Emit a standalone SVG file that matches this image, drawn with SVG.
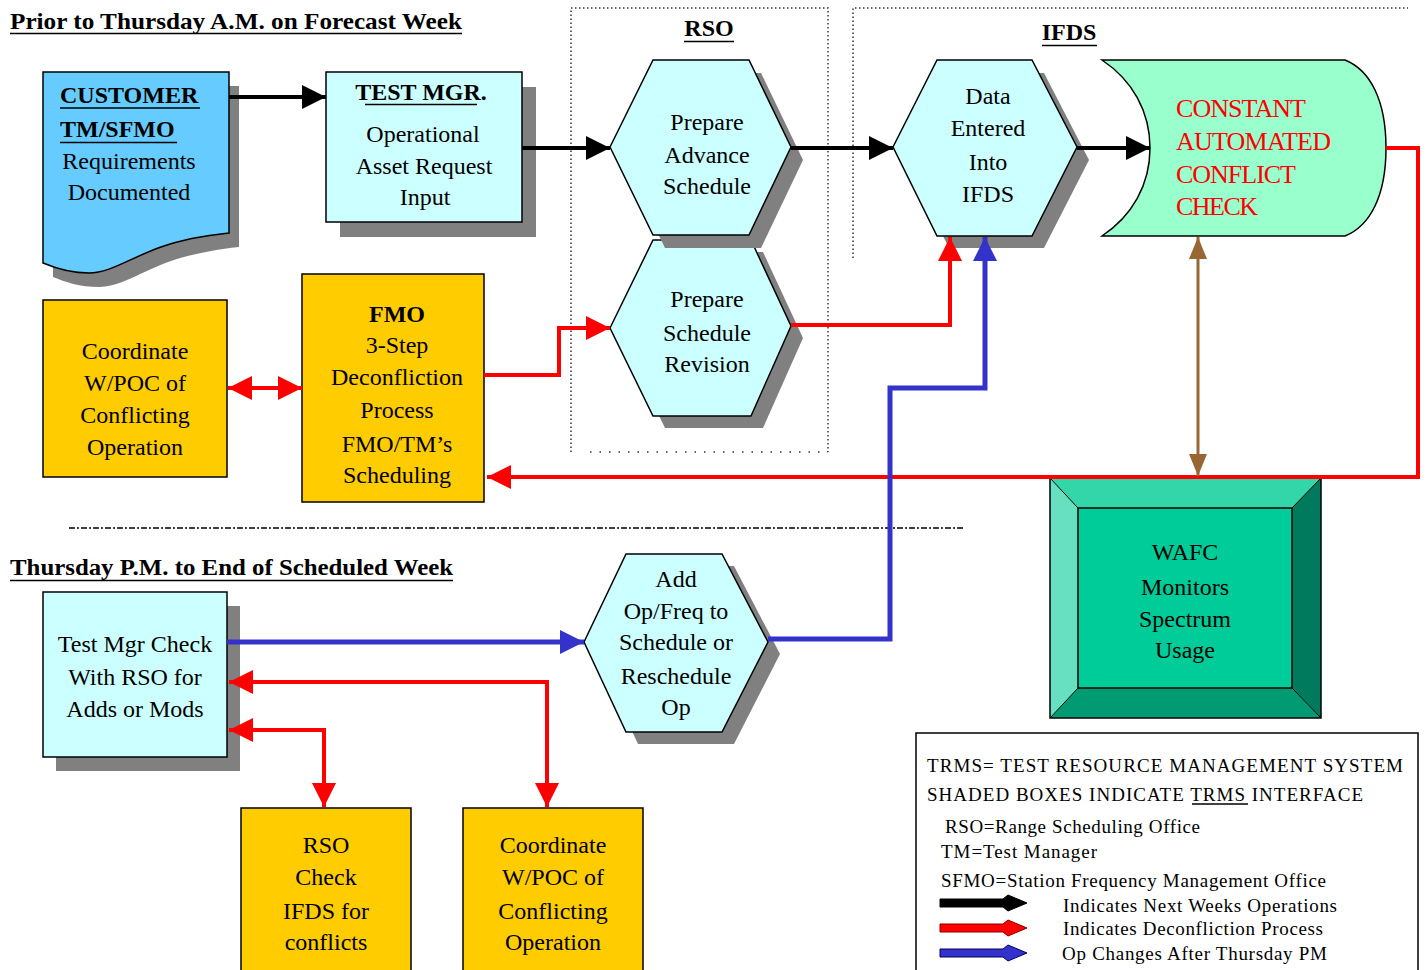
<svg xmlns="http://www.w3.org/2000/svg" width="1427" height="970" viewBox="0 0 1427 970">
<style>
.t{font-family:"Liberation Serif","Times New Roman",serif;font-size:24px;fill:#000;text-anchor:middle}
.b{font-weight:bold}
.l{text-anchor:start}
.sh{fill:#808080}
.cy{fill:#CCFFFF;stroke:#000;stroke-width:1.5}
.ye{fill:#FFCC00;stroke:#000;stroke-width:1.5}
.dot{fill:none;stroke:#333;stroke-width:1.5;stroke-dasharray:1.5 2.5}
.ul{stroke:#000;stroke-width:1.5}
.lg{font-family:"Liberation Serif","Times New Roman",serif;font-size:19px;fill:#000}
.rd{fill:#FF0000;font-family:"Liberation Serif","Times New Roman",serif;font-size:26px}
.k{fill:none;stroke:#000;stroke-width:4}
.r{fill:none;stroke:#FF0000;stroke-width:4}
.bl{fill:none;stroke:#3333CC;stroke-width:5}
.br{fill:none;stroke:#996633;stroke-width:3}
</style>
<defs>
<marker id="ak" markerUnits="userSpaceOnUse" markerWidth="24" markerHeight="24" refX="24" refY="12" orient="auto"><path d="M0,0 L24,12 L0,24 Z" fill="#000"/></marker>
<marker id="ar" markerUnits="userSpaceOnUse" markerWidth="24" markerHeight="24" refX="24" refY="12" orient="auto-start-reverse"><path d="M0,0 L24,12 L0,24 Z" fill="#FF0000"/></marker>
<marker id="ab" markerUnits="userSpaceOnUse" markerWidth="24" markerHeight="24" refX="24" refY="12" orient="auto"><path d="M0,0 L24,12 L0,24 Z" fill="#3333CC"/></marker>
<marker id="an" markerUnits="userSpaceOnUse" markerWidth="22" markerHeight="18" refX="22" refY="9" orient="auto-start-reverse"><path d="M0,0 L22,9 L0,18 Z" fill="#996633"/></marker>
</defs>
<rect width="1427" height="970" fill="#fff"/>

<!-- section titles & frames -->
<g id="titles">
<text class="t b l" x="10" y="29" font-size="26" textLength="452" lengthAdjust="spacingAndGlyphs">Prior to Thursday A.M. on Forecast  Week</text>
<line class="ul" x1="10" y1="33.5" x2="462" y2="33.5"/>
<text class="t b l" x="10" y="575" font-size="26" textLength="443" lengthAdjust="spacingAndGlyphs">Thursday P.M. to End of Scheduled Week</text>
<line class="ul" x1="10" y1="580.5" x2="453" y2="580.5"/>
<line x1="69" y1="528" x2="963" y2="528" stroke="#000" stroke-width="1.5" stroke-dasharray="6 2 2 2"/>
</g>
<g id="rso-frame">
<path class="dot" d="M571,452 V8 H828 V452"/>
<line x1="590" y1="452" x2="828" y2="452" stroke="#333" stroke-width="1.5" stroke-dasharray="1.5 8"/>
<text class="t b" x="709" y="36">RSO</text>
<line class="ul" x1="684" y1="41.5" x2="734" y2="41.5"/>
</g>
<g id="ifds-frame">
<path class="dot" d="M853,258 V8 H1408"/>
<text class="t b" x="1069" y="40">IFDS</text>
<line class="ul" x1="1042" y1="45.5" x2="1097" y2="45.5"/>
</g>

<!-- nodes -->
<g id="customer">
<path class="sh" d="M53,86 H239 V247 C210,250 185,256 171,261 C140,272 120,287 99,287 C80,287 65,282 53,277 Z"/>
<path d="M43,72 H229 V233 C200,236 175,242 161,247 C130,258 110,273 89,273 C70,273 55,268 43,263 Z" fill="#66CCFF" stroke="#000" stroke-width="1.5"/>
<text class="t b l" x="60" y="103">CUSTOMER</text>
<line class="ul" x1="60" y1="108" x2="200" y2="108"/>
<text class="t b l" x="60" y="137">TM/SFMO</text>
<line class="ul" x1="60" y1="142.5" x2="177" y2="142.5"/>
<text class="t" x="129" y="169">Requirements</text>
<text class="t" x="129" y="200">Documented</text>
</g>
<g id="testmgr">
<rect class="sh" x="340" y="87" width="196" height="150"/>
<rect class="cy" x="326" y="72" width="196" height="150"/>
<text class="t b" x="421" y="100" font-size="20">TEST MGR.</text>
<line class="ul" x1="365" y1="104.5" x2="477" y2="104.5"/>
<text class="t" x="423" y="142">Operational</text>
<text class="t" x="424" y="174">Asset Request</text>
<text class="t" x="425" y="205">Input</text>
</g>
<g id="hex-revision">
<polygon class="sh" points="622,340 665,252 763,252 803,338 763,428 665,428"/>
<polygon class="cy" points="610,328 653,240 751,240 791,326 751,416 653,416"/>
<text class="t" x="707" y="307">Prepare</text>
<text class="t" x="707" y="341">Schedule</text>
<text class="t" x="707" y="372">Revision</text>
</g>
<g id="hex-advance">
<polygon class="sh" points="622,160 665,73 761,73 803,160 761,248 665,248"/>
<polygon class="cy" points="610,147 653,60 749,60 791,147 749,235 653,235"/>
<text class="t" x="707" y="130">Prepare</text>
<text class="t" x="707" y="163">Advance</text>
<text class="t" x="707" y="194">Schedule</text>
</g>
<g id="hex-ifds">
<polygon class="sh" points="905,160 949,73 1044,73 1089,160 1044,248 949,248"/>
<polygon class="cy" points="893,147 937,60 1032,60 1077,147 1032,236 937,236"/>
<text class="t" x="988" y="104">Data</text>
<text class="t" x="988" y="136">Entered</text>
<text class="t" x="988" y="170">Into</text>
<text class="t" x="988" y="202">IFDS</text>
</g>
<g id="conflict-check">
<path d="M1102,60 H1345 C1370,70 1386,100 1386,148 C1386,196 1370,226 1345,236 H1102 C1132,216 1150,185 1150,148 C1150,111 1132,80 1102,60 Z" fill="#99FFCC" stroke="#000" stroke-width="1.5"/>
<text class="rd" x="1176" y="117" textLength="130">CONSTANT</text>
<text class="rd" x="1176" y="150" textLength="155">AUTOMATED</text>
<text class="rd" x="1176" y="183" textLength="120">CONFLICT</text>
<text class="rd" x="1176" y="215" textLength="82">CHECK</text>
</g>
<g id="coordinate-top">
<rect class="ye" x="43" y="300" width="184" height="177"/>
<text class="t" x="135" y="359">Coordinate</text>
<text class="t" x="135" y="391">W/POC of</text>
<text class="t" x="135" y="423">Conflicting</text>
<text class="t" x="135" y="455">Operation</text>
</g>
<g id="fmo">
<rect class="ye" x="302" y="274" width="182" height="228"/>
<text class="t b" x="397" y="322">FMO</text>
<text class="t" x="397" y="353">3-Step</text>
<text class="t" x="397" y="385">Deconfliction</text>
<text class="t" x="397" y="418">Process</text>
<text class="t" x="397" y="452">FMO/TM’s</text>
<text class="t" x="397" y="483">Scheduling</text>
</g>
<g id="wafc">
<polygon points="1050,478 1321,478 1292,508 1078,508" fill="#33D6A8"/>
<polygon points="1050,478 1078,508 1078,688 1050,718" fill="#66E0C0"/>
<polygon points="1321,478 1321,718 1292,688 1292,508" fill="#007A5C"/>
<polygon points="1050,718 1321,718 1292,688 1078,688" fill="#009B73"/>
<g stroke="#000" stroke-width="1" fill="none">
<line x1="1050" y1="478" x2="1078" y2="508"/><line x1="1321" y1="478" x2="1292" y2="508"/>
<line x1="1050" y1="718" x2="1078" y2="688"/><line x1="1321" y1="718" x2="1292" y2="688"/>
</g>
<rect x="1050" y="478" width="271" height="240" fill="none" stroke="#000" stroke-width="1.5"/>
<rect x="1078" y="508" width="214" height="180" fill="#00CC99" stroke="#000" stroke-width="1.5"/>
<text class="t" x="1185" y="560">WAFC</text>
<text class="t" x="1185" y="595">Monitors</text>
<text class="t" x="1185" y="627">Spectrum</text>
<text class="t" x="1185" y="658">Usage</text>
</g>
<g id="testmgr-check">
<rect class="sh" x="56" y="606" width="184" height="165"/>
<rect class="cy" x="43" y="592" width="184" height="165"/>
<text class="t" x="135" y="652">Test Mgr Check</text>
<text class="t" x="135" y="685">With RSO for</text>
<text class="t" x="135" y="717">Adds or Mods</text>
</g>
<g id="hex-addop">
<polygon class="sh" points="596,654 638,566 734,566 780,654 734,744 638,744"/>
<polygon class="cy" points="584,642 626,554 722,554 768,642 722,732 626,732"/>
<text class="t" x="676" y="587">Add</text>
<text class="t" x="676" y="619">Op/Freq to</text>
<text class="t" x="676" y="650">Schedule or</text>
<text class="t" x="676" y="684">Reschedule</text>
<text class="t" x="676" y="715">Op</text>
</g>
<g id="rso-check">
<rect class="ye" x="241" y="808" width="170" height="170"/>
<text class="t" x="326" y="853">RSO</text>
<text class="t" x="326" y="885">Check</text>
<text class="t" x="326" y="919">IFDS for</text>
<text class="t" x="326" y="950">conflicts</text>
</g>
<g id="coordinate-bottom">
<rect class="ye" x="463" y="808" width="180" height="170"/>
<text class="t" x="553" y="853">Coordinate</text>
<text class="t" x="553" y="885">W/POC of</text>
<text class="t" x="553" y="919">Conflicting</text>
<text class="t" x="553" y="950">Operation</text>
</g>

<!-- connectors -->
<g id="connectors">
<path class="k" d="M229,97 H326" marker-end="url(#ak)"/>
<path class="k" d="M522,148 H610" marker-end="url(#ak)"/>
<path class="k" d="M791,148 H893" marker-end="url(#ak)"/>
<path class="k" d="M1077,148 H1150" marker-end="url(#ak)"/>
<path class="r" d="M484,375 H559 V328 H610" marker-end="url(#ar)"/>
<path class="r" d="M791,325 H950 V237" marker-end="url(#ar)"/>
<path class="r" d="M1386,148 H1418 V477 H487" marker-end="url(#ar)"/>
<path class="r" d="M228,388 H302" marker-start="url(#ar)" marker-end="url(#ar)"/>
<path class="r" d="M229,682 H547 V807" marker-start="url(#ar)" marker-end="url(#ar)"/>
<path class="r" d="M229,730 H324 V807" marker-start="url(#ar)" marker-end="url(#ar)"/>
<path class="bl" d="M227,642 H584" marker-end="url(#ab)"/>
<path class="bl" d="M768,639 H890 V388 H985 V237" marker-end="url(#ab)"/>
<path class="br" d="M1198,237 V476" marker-start="url(#an)" marker-end="url(#an)"/>
</g>

<!-- legend -->
<g id="legend">
<rect x="916" y="733" width="502" height="250" fill="#fff" stroke="#000" stroke-width="1.5"/>
<text class="lg" x="927" y="772" textLength="476">TRMS= TEST RESOURCE  MANAGEMENT SYSTEM</text>
<text class="lg" x="927" y="801" textLength="436">SHADED BOXES INDICATE TRMS INTERFACE</text>
<line class="ul" x1="1192" y1="804" x2="1248" y2="804"/>
<text class="lg" x="945" y="833" font-size="18" textLength="255">RSO=Range Scheduling Office</text>
<text class="lg" x="941" y="858" font-size="18" textLength="156">TM=Test Manager</text>
<text class="lg" x="941" y="887" font-size="18" textLength="385">SFMO=Station Frequency Management Office</text>
<path d="M940,899 H1003 L1008,895 L1027,903 L1008,911 L1003,907 H940 Z" fill="#000" stroke="#000"/>
<path d="M940,924 H1003 L1008,920 L1027,928 L1008,936 L1003,932 H940 Z" fill="#FF0000" stroke="#880000"/>
<path d="M940,949 H1003 L1008,945 L1027,953 L1008,961 L1003,957 H940 Z" fill="#3333CC" stroke="#000066"/>
<text class="lg" x="1063" y="912" font-size="18" textLength="274">Indicates  Next Weeks Operations</text>
<text class="lg" x="1063" y="935" font-size="18" textLength="260">Indicates  Deconfliction Process</text>
<text class="lg" x="1062" y="960" font-size="18" textLength="265">Op Changes After Thursday PM</text>
</g>
</svg>
